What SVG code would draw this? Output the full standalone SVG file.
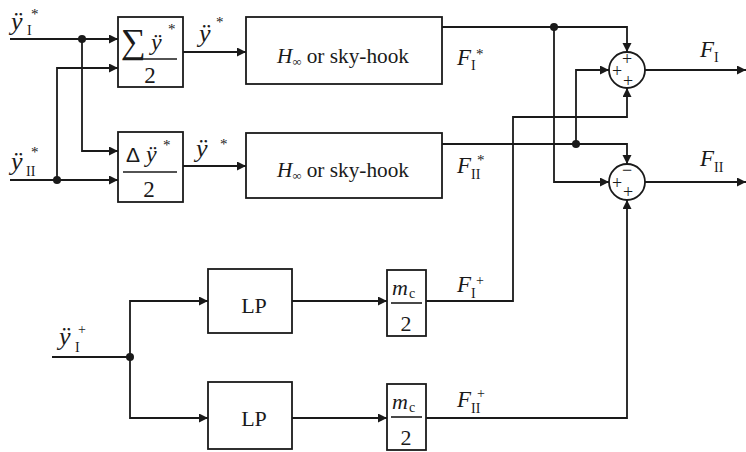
<svg xmlns="http://www.w3.org/2000/svg" width="746" height="452" viewBox="0 0 746 452">
<defs>
<style>
.b{fill:#fff;stroke:#1a1a1a;stroke-width:1.8}
.c{fill:none;stroke:#1a1a1a;stroke-width:1.8}
.bar{stroke:#1a1a1a;stroke-width:1.6}
.v{font-family:"Liberation Serif",serif;font-style:italic;font-size:23px;fill:#1a1a1a}
.y{font-family:"Liberation Serif",serif;font-style:italic;font-size:26px;fill:#1a1a1a}
.r{font-family:"Liberation Serif",serif;font-size:22px;fill:#1a1a1a}
.s{font-family:"Liberation Serif",serif;font-size:14px;fill:#1a1a1a}
.st{font-family:"Liberation Serif",serif;font-size:15px;fill:#1a1a1a}
.p{font-family:"Liberation Serif",serif;font-size:18px;fill:#1a1a1a;text-anchor:middle}
.m{text-anchor:middle}
</style>
<marker id="a" markerUnits="userSpaceOnUse" markerWidth="10" markerHeight="10" refX="9" refY="4.5" orient="auto">
<path d="M0,0 L9,4.5 L0,9 z" fill="#1a1a1a"/>
</marker>
</defs>
<rect width="746" height="452" fill="#fff"/>

<g id="connectors" class="c">
<path d="M10,39 H118" marker-end="url(#a)"/>
<path d="M82,39 V151 H118" marker-end="url(#a)"/>
<path d="M10,180 H118" marker-end="url(#a)"/>
<path d="M57,180 V68 H118" marker-end="url(#a)"/>
<path d="M183,52 H246" marker-end="url(#a)"/>
<path d="M183,166 H246" marker-end="url(#a)"/>
<path d="M442,27 H627 V52" marker-end="url(#a)"/>
<path d="M442,144 H627 V164" marker-end="url(#a)"/>
<path d="M554,27 V182 H609" marker-end="url(#a)"/>
<path d="M576,144 V70 H609" marker-end="url(#a)"/>
<path d="M426,301 H513 V117 H627 V88" marker-end="url(#a)"/>
<path d="M426,418 H627 V200" marker-end="url(#a)"/>
<path d="M645,70 H746" marker-end="url(#a)"/>
<path d="M645,182 H746" marker-end="url(#a)"/>
<path d="M52,357 H130"/>
<path d="M130,357 V301 H208" marker-end="url(#a)"/>
<path d="M130,357 V418 H208" marker-end="url(#a)"/>
<path d="M292,301 H387" marker-end="url(#a)"/>
<path d="M292,418 H387" marker-end="url(#a)"/>
<g fill="#1a1a1a" stroke="none">
<circle cx="82" cy="39" r="4"/>
<circle cx="57" cy="180" r="4"/>
<circle cx="554" cy="27" r="4"/>
<circle cx="576" cy="144" r="4"/>
<circle cx="130" cy="357" r="4"/>
</g>
</g>

<g id="labels">
<text class="y" x="11" y="30">ÿ</text><text class="s" x="27" y="35">I</text><text class="st" x="31" y="19">*</text>
<text class="y" x="11" y="170">ÿ</text><text class="s" x="26" y="176">II</text><text class="st" x="31" y="157">*</text>
<text class="y" x="199" y="42">ÿ</text><text class="st" x="216" y="27">*</text>
<text class="y" x="196" y="157">ÿ</text><text class="st" x="220" y="149">*</text>
<text class="y" x="59" y="345">ÿ</text><text class="s" x="75" y="352">I</text><text class="s" x="78" y="334">+</text>
<text class="v" x="457" y="65">F</text><text class="s" x="471" y="70">I</text><text class="st" x="476" y="59">*</text>
<text class="v" x="457" y="173">F</text><text class="s" x="471" y="179">II</text><text class="st" x="477" y="165">*</text>
<text class="v" x="457" y="292">F</text><text class="s" x="471" y="298">I</text><text class="s" x="476" y="285">+</text>
<text class="v" x="457" y="407">F</text><text class="s" x="471" y="413">II</text><text class="s" x="477" y="398">+</text>
<text class="v" x="700" y="57">F</text><text class="s" x="714" y="62">I</text>
<text class="v" x="700" y="166">F</text><text class="s" x="714" y="172">II</text>
</g>

<g id="sum">
<rect class="b" x="118" y="17" width="65" height="70"/>
<text x="121" y="53" style="font-family:'Liberation Serif','DejaVu Sans',serif;font-size:35px;fill:#1a1a1a">∑</text>
<text class="y" x="151" y="50" style="font-size:24px">ÿ</text><text class="st" x="168" y="34">*</text>
<line class="bar" x1="123" y1="59" x2="177" y2="59"/>
<text class="r m" x="150" y="83" style="font-size:23px">2</text>
</g>

<g id="delta">
<rect class="b" x="118" y="132" width="65" height="70"/>
<text x="126" y="162" style="font-family:'Liberation Sans',sans-serif;font-size:21px;fill:#1a1a1a">Δ</text>
<text class="y" x="146" y="162" style="font-size:24px">ÿ</text><text class="st" x="163" y="150">*</text>
<line class="bar" x1="123" y1="172" x2="177" y2="172"/>
<text class="r m" x="149" y="197" style="font-size:23px">2</text>
</g>

<g id="hinf1">
<rect class="b" x="246" y="17" width="196" height="67"/>
<text class="r" x="277" y="63" style="font-size:22px" textLength="132" lengthAdjust="spacingAndGlyphs"><tspan font-style="italic">H</tspan><tspan font-size="13" dy="3">∞</tspan><tspan dy="-3"> or sky-hook</tspan></text>
</g>

<g id="hinf2">
<rect class="b" x="246" y="133" width="196" height="65"/>
<text class="r" x="277" y="177" style="font-size:22px" textLength="132" lengthAdjust="spacingAndGlyphs"><tspan font-style="italic">H</tspan><tspan font-size="13" dy="3">∞</tspan><tspan dy="-3"> or sky-hook</tspan></text>
</g>

<g id="sum1">
<circle class="c" cx="627" cy="70" r="18"/>
<text class="p" x="627" y="65">+</text>
<text class="p" x="617" y="77">+</text>
<text class="p" x="628" y="87">+</text>
</g>

<g id="sum2">
<circle class="c" cx="627" cy="182" r="18"/>
<text class="p" x="627" y="176">−</text>
<text class="p" x="617" y="189">+</text>
<text class="p" x="628" y="198">+</text>
</g>

<g id="lp1">
<rect class="b" x="208" y="269" width="84" height="64"/>
<text class="r m" x="254" y="313">LP</text>
</g>

<g id="lp2">
<rect class="b" x="208" y="382" width="84" height="67"/>
<text class="r m" x="254" y="426">LP</text>
</g>

<g id="mc1">
<rect class="b" x="387" y="270" width="39" height="66"/>
<text class="v" x="392" y="295" style="font-size:22px">m</text><text class="s" x="409" y="298">c</text>
<line class="bar" x1="391" y1="303" x2="422" y2="303"/>
<text class="r m" x="406" y="331">2</text>
</g>

<g id="mc2">
<rect class="b" x="387" y="384" width="39" height="66"/>
<text class="v" x="392" y="409" style="font-size:22px">m</text><text class="s" x="409" y="412">c</text>
<line class="bar" x1="391" y1="417" x2="422" y2="417"/>
<text class="r m" x="406" y="445">2</text>
</g>
</svg>
